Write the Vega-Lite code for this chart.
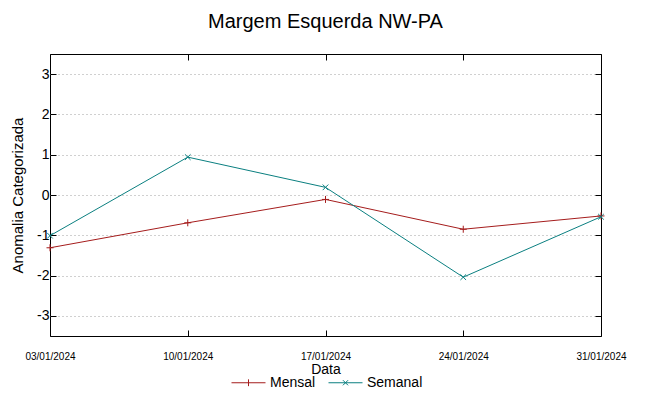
{
  "$schema": "https://vega.github.io/schema/vega-lite/v6.json",
  "width": 551,
  "height": 282,
  "autosize": "none",
  "padding": {"left": 50, "top": 54, "right": 48, "bottom": 60},
  "background": "white",
  "title": {"text": "Margem Esquerda NW-PA", "fontSize": 20, "font": "Liberation Sans", "fontWeight": "normal", "color": "#000000", "anchor": "middle", "baseline": "alphabetic", "offset": 6},
  "data": {"values": [
    {"data": "03/01/2024", "valor": -1.31, "serie": "Mensal"},
    {"data": "10/01/2024", "valor": -0.69, "serie": "Mensal"},
    {"data": "17/01/2024", "valor": -0.11, "serie": "Mensal"},
    {"data": "24/01/2024", "valor": -0.85, "serie": "Mensal"},
    {"data": "31/01/2024", "valor": -0.52, "serie": "Mensal"},
    {"data": "03/01/2024", "valor": -1.01, "serie": "Semanal"},
    {"data": "10/01/2024", "valor": 0.94, "serie": "Semanal"},
    {"data": "17/01/2024", "valor": 0.19, "serie": "Semanal"},
    {"data": "24/01/2024", "valor": -2.04, "serie": "Semanal"},
    {"data": "31/01/2024", "valor": -0.54, "serie": "Semanal"}
  ]},
  "config": {
    "view": {"stroke": "#000000", "strokeWidth": 1},
    "axis": {"domain": false, "tickColor": "#000000", "labelColor": "#000000", "titleColor": "#000000", "font": "Liberation Sans", "labelFont": "Liberation Sans", "titleFont": "Liberation Sans", "titleFontWeight": "normal"}
  },
  "resolve": {"axis": {"x": "independent", "y": "independent"}},
  "layer": [
    {
      "mark": {"type": "line", "strokeWidth": 1},
      "encoding": {
        "x": {"field": "data", "type": "ordinal", "sort": null, "scale": {"type": "point", "padding": 0},
              "axis": {"title": "Data", "labelAngle": 0, "labelFontSize": 10, "tickSize": -6, "labelPadding": 21, "titleFontSize": 14, "titlePadding": 1, "grid": false}},
        "y": {"field": "valor", "type": "quantitative", "scale": {"domain": [-3.5, 3.5], "nice": false},
              "axis": {"title": "Anomalia Categorizada", "values": [-3, -2, -1, 0, 1, 2, 3], "labelExpr": "datum.value < 0 ? '-' + abs(datum.value) : '' + datum.value", "tickSize": -6, "labelPadding": 7, "labelFontSize": 14, "titleFontSize": 15, "titlePadding": 11, "grid": true, "gridColor": "#a0a0a0", "gridDash": [1, 3], "gridWidth": 1}},
        "color": {"field": "serie", "type": "nominal", "scale": {"domain": ["Mensal", "Semanal"], "range": ["#a51c1c", "#0a7f80"]}}
      }
    },
    {
      "transform": [{"filter": "datum.serie === 'Mensal'"}],
      "mark": {"type": "point", "filled": false, "strokeWidth": 1, "size": 49, "opacity": 1, "shape": "M-1,0L1,0M0,-1L0,1"},
      "encoding": {
        "x": {"field": "data", "type": "ordinal", "sort": null,
              "axis": {"orient": "top", "labels": false, "title": null, "tickSize": -6, "grid": false}},
        "y": {"field": "valor", "type": "quantitative",
              "axis": {"orient": "right", "labels": false, "title": null, "tickSize": -6, "values": [-3, -2, -1, 0, 1, 2, 3], "grid": false}},
        "color": {"field": "serie", "type": "nominal"}
      }
    },
    {
      "transform": [{"filter": "datum.serie === 'Semanal'"}],
      "mark": {"type": "point", "filled": false, "strokeWidth": 1, "size": 49, "opacity": 1, "shape": "M-0.8,-0.8L0.8,0.8M-0.8,0.8L0.8,-0.8"},
      "encoding": {
        "x": {"field": "data", "type": "ordinal", "sort": null, "axis": null},
        "y": {"field": "valor", "type": "quantitative", "axis": null},
        "color": {"field": "serie", "type": "nominal"}
      }
    },
    {
      "mark": {"type": "point", "filled": false, "strokeWidth": 1, "size": 1156, "opacity": 0},
      "encoding": {
        "x": {"field": "data", "type": "ordinal", "sort": null, "axis": null},
        "y": {"field": "valor", "type": "quantitative", "axis": null},
        "color": {"field": "serie", "type": "nominal",
                  "legend": {"title": null, "orient": "none", "legendX": 181, "legendY": 311, "direction": "horizontal", "labelFontSize": 14, "labelFont": "Liberation Sans", "labelColor": "#000000", "symbolSize": 1156, "symbolOpacity": 1, "symbolStrokeWidth": 1, "symbolFillColor": "transparent", "labelOffset": 4, "columnPadding": 10}},
        "shape": {"field": "serie", "type": "nominal", "scale": {"domain": ["Mensal", "Semanal"], "range": ["M-1,0L1,0M0,-0.2L0,0.2", "M-1,0L1,0M-0.15,-0.15L0.15,0.15M-0.15,0.15L0.15,-0.15"]}}
      }
    }
  ]
}
